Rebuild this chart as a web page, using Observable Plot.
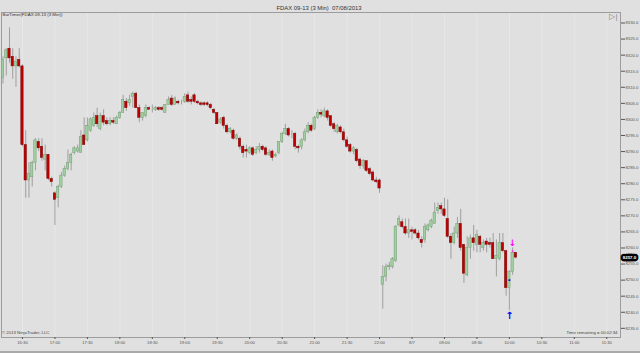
<!DOCTYPE html>
<html>
<head>
<meta charset="utf-8">
<script src="https://cdn.jsdelivr.net/npm/d3@7"></script>
<script src="https://cdn.jsdelivr.net/npm/@observablehq/plot@0.6"></script>
<style>
  html, body { margin: 0; padding: 0; background: #e0e0e0; }
  #wrap { width: 640px; height: 353px; overflow: hidden; }
  #band { width: 640px; height: 2px; background: #a9a9a9; }
</style>
</head>
<body>
<div id="wrap"><div id="chart"></div><div id="band"></div></div>
<script>
// ---- data (3-min FDAX bars, bar index 0 = first bar on chart) ----
const opens = [
8313.0,8319.0,8322.0,8319.5,8316.5,8318.5,8316.5,8292.0,8281.0,8282.0,
8286.5,8293.0,8291.5,8287.5,8289.0,8281.5,8277.0,8275.5,8279.0,8282.5,
8284.5,8286.5,8289.5,8290.0,8289.5,8295.0,8293.5,8296.5,8298.0,8301.0,
8297.0,8301.0,8299.5,8298.5,8299.5,8298.5,8300.5,8302.0,8305.5,8305.0,8307.0,
8308.0,8303.5,8300.5,8301.0,8303.5,8303.5,8303.0,8303.5,8303.5,8302.0,8304.5,
8306.5,8304.5,8305.5,8305.5,8305.5,8307.5,8306.0,8307.5,8305.5,8305.0,
8305.0,8305.0,8304.5,8303.0,8302.0,8299.0,8300.5,8298.0,8296.0,8296.5,8294.0,
8294.0,8291.5,8290.5,8289.5,8291.0,8289.5,8290.5,8291.5,8291.0,8289.0,8290.0,
8288.5,8289.5,8293.0,8295.5,8297.0,8295.5,8295.5,8291.5,8291.5,8293.5,
8296.0,8298.0,8297.0,8300.5,8302.0,8301.0,8302.5,8301.0,8298.5,
8296.0,8297.5,8296.0,8293.5,8292.0,8290.0,8290.5,8287.5,
8285.5,8287.0,8284.5,8283.5,8281.0,8281.0,
8248.5,8251.0,8254.0,8254.0,8256.0,8267.0,8268.0,8266.5,8264.5,8265.5,
8265.5,8264.5,8262.5,8262.5,8265.5,8266.5,8267.5,8271.5,8273.0,8272.0,
8269.0,8263.5,8261.5,8264.5,8267.5,8261.0,8251.5,8260.0,8263.0,8261.0,
8263.5,8260.0,8262.0,8261.5,8261.5,8256.5,8256.5,8261.5,8259.0,8247.5,
8252.5,8258.5
];
const highs = [
8319.5,8322.0,8328.5,8322.0,8319.5,8322.0,8317.0,8296.5,8286.5,8287.0,
8294.0,8294.0,8294.0,8292.0,8289.0,8282.0,8277.5,8279.5,8283.5,8285.5,
8290.5,8289.5,8291.5,8292.0,8296.5,8300.5,8300.5,8300.5,8302.0,8303.5,
8302.0,8303.0,8300.5,8300.5,8300.5,8301.0,8302.5,8307.5,8306.5,8307.5,8308.5,
8308.5,8304.5,8302.0,8304.5,8304.0,8304.5,8304.0,8304.0,8304.0,8304.5,8307.0,
8307.5,8307.0,8306.0,8306.0,8308.0,8308.5,8307.0,8308.0,8306.0,8305.5,
8305.5,8305.5,8305.0,8303.5,8302.0,8300.5,8301.0,8298.5,8297.5,8297.0,8295.5,
8294.5,8292.0,8292.0,8291.5,8291.5,8291.5,8292.5,8292.0,8291.5,8290.5,8290.5,
8289.5,8293.0,8296.0,8298.5,8297.5,8296.5,8296.0,8292.0,8294.0,8297.0,
8299.0,8298.5,8301.0,8303.0,8303.0,8303.5,8303.0,8301.0,8299.0,
8298.5,8298.0,8297.0,8294.5,8292.5,8291.5,8291.0,8288.0,
8287.5,8287.0,8285.0,8284.0,8282.0,8281.5,
8254.5,8255.0,8255.5,8257.0,8267.0,8270.0,8269.0,8269.0,8269.0,8266.5,
8266.0,8265.5,8263.5,8267.5,8267.5,8269.0,8274.0,8274.0,8274.0,8275.5,
8275.0,8264.5,8266.5,8269.5,8272.0,8261.0,8263.5,8264.0,8267.0,8265.5,
8264.0,8262.5,8263.0,8263.0,8264.5,8262.5,8264.5,8264.5,8259.0,8253.0,
8260.0,8258.5
];
const lows = [
8311.0,8313.5,8317.5,8312.5,8310.0,8316.0,8291.5,8275.5,8275.5,8279.0,
8284.0,8290.0,8287.0,8284.0,8281.0,8279.0,8267.0,8272.5,8278.5,8282.0,
8284.0,8284.0,8289.0,8289.5,8289.5,8292.0,8293.0,8296.0,8297.5,8297.5,
8296.5,8298.0,8298.0,8298.0,8298.5,8298.5,8300.0,8302.0,8302.5,8304.0,8303.5,
8303.5,8299.0,8299.5,8300.5,8303.0,8302.0,8302.5,8302.5,8302.5,8302.0,8304.5,
8304.0,8304.5,8304.5,8304.5,8305.0,8305.0,8304.5,8305.0,8304.5,8304.0,
8304.0,8304.0,8303.0,8301.5,8298.5,8298.5,8297.0,8295.5,8295.5,8293.5,8293.5,
8290.5,8288.0,8288.0,8289.0,8288.5,8289.0,8289.5,8290.0,8288.5,8288.5,8287.0,
8288.0,8289.0,8292.5,8295.0,8294.5,8294.0,8290.5,8289.5,8290.5,8293.0,
8295.5,8296.0,8296.5,8300.0,8300.5,8300.5,8299.5,8297.5,8296.0,
8295.5,8295.5,8293.0,8291.0,8289.5,8289.0,8286.5,8284.5,
8284.5,8283.5,8282.5,8280.5,8280.0,8277.0,
8241.0,8249.5,8253.0,8253.5,8255.5,8266.5,8266.0,8264.0,8263.0,8262.5,
8264.0,8262.5,8260.0,8261.5,8265.0,8266.0,8267.5,8270.5,8270.5,8269.5,
8263.0,8256.5,8261.0,8263.0,8259.0,8249.0,8251.0,8256.5,8259.0,8258.5,
8258.5,8259.0,8258.5,8260.0,8256.5,8251.0,8256.0,8258.5,8245.0,8240.5,
8251.5,8256.5
];
const closes = [
8318.5,8321.5,8319.0,8316.5,8318.0,8316.5,8292.0,8281.0,8283.0,8286.5,
8293.5,8291.0,8288.0,8289.0,8281.5,8280.5,8275.0,8279.0,8282.5,8284.5,
8286.5,8289.0,8291.0,8291.0,8294.5,8292.0,8298.0,8300.0,8300.5,8298.5,
8301.0,8299.0,8298.5,8299.5,8299.0,8300.5,8302.0,8306.0,8303.5,8306.0,8308.0,
8303.5,8300.5,8302.0,8303.5,8303.0,8303.5,8303.5,8303.0,8303.0,8304.5,8306.0,
8304.5,8306.5,8305.0,8305.5,8307.0,8305.5,8305.5,8305.5,8305.0,8304.5,
8304.5,8304.5,8303.5,8302.0,8298.5,8300.0,8298.0,8296.0,8297.0,8294.0,8295.0,
8291.5,8289.5,8290.0,8291.0,8289.0,8290.5,8291.5,8290.5,8289.0,8289.5,8288.0,
8289.0,8293.0,8295.5,8297.0,8295.0,8295.5,8291.5,8291.0,8293.5,8296.0,
8298.0,8296.5,8300.5,8302.0,8301.5,8302.5,8300.5,8298.0,8297.0,
8298.0,8296.0,8293.5,8291.5,8290.0,8291.0,8287.0,8285.5,
8287.0,8284.0,8283.0,8281.0,8280.5,8278.5,
8251.0,8254.0,8254.5,8256.5,8266.5,8269.0,8266.5,8264.5,8265.5,8265.0,
8264.5,8263.0,8261.5,8266.5,8267.0,8268.5,8271.0,8272.5,8272.0,8270.0,
8263.5,8261.5,8264.5,8267.5,8260.0,8252.0,8260.0,8263.0,8261.5,8264.0,
8261.0,8261.5,8261.0,8261.0,8256.5,8257.5,8261.5,8259.0,8247.5,8252.5,
8258.5,8257.0
];

// x-axis tick positions (bar index) and their labels
const tickIndex  = [6,16,26,36,46,56,66,76,86,96,106,116,126,136,146,156,166,176,186];
const tickLabels = ["16:30","17:00","17:30","18:00","18:30","19:00","19:30","20:00","20:30","21:00",
                    "21:30","22:00","8/7","09:00","09:30","10:00","10:30","11:00","11:30"];
const yTicks = [8235,8240,8245,8250,8255,8260,8265,8270,8275,8280,8285,8290,8295,8300,8305,8310,8315,8320,8325,8330];

// signal markers (bar index)
const buyArrowIdx = [156];
const sellArrowIdx = [157];
const blueDots = [{i:156, price:8250.0}];
const pinkDots = [{i:157, price:8259.0}];

const titleText = "FDAX 09-13 (3 Min)  07/08/2013";
const indicatorLabel = "BarTimer(FDAX 09-13 (3 Min))";
const copyrightText = "© 2013 NinjaTrader, LLC";
const timerText = "Time remaining = 00:02:34";

const bars = opens.map((o, i) => ({i, open: o, high: highs[i], low: lows[i], close: closes[i]}));
const ups = bars.filter(d => d.close >= d.open);
const downs = bars.filter(d => d.close < d.open);
const last = bars[bars.length - 1];
const labelMap = new Map(tickIndex.map((t, k) => [t, tickLabels[k]]));

const font = "Liberation Sans, Arial, sans-serif";

const chart = Plot.plot({
  width: 640,
  height: 351,
  marginTop: 12,
  marginBottom: 14,
  marginLeft: 1,
  marginRight: 20,
  style: {background: "#e0e0e0", fontFamily: font, color: "#555"},
  x: {type: "linear", domain: [-0.46, 190.23], label: null},
  y: {domain: [8232.15, 8333.27], label: null},
  marks: [
    Plot.ruleX(tickIndex, {stroke: "#e7e7e7", strokeWidth: 1}),
    Plot.frame({stroke: "#9c9c9c"}),
    Plot.ruleX(bars, {x: "i", y1: "low", y2: "high", stroke: "#8e8e8e", strokeWidth: 0.8}),
    Plot.rect(ups, {x1: d => d.i - 0.36, x2: d => d.i + 0.36, y1: "open", y2: "close",
                    fill: "#9fd09f", stroke: "#739e73", strokeWidth: 0.5}),
    Plot.rect(downs, {x1: d => d.i - 0.36, x2: d => d.i + 0.36, y1: "open", y2: "close",
                      fill: "#c00000", stroke: "#7a0000", strokeWidth: 0.5}),
    Plot.axisY({anchor: "right", ticks: yTicks, tickFormat: d => d.toFixed(1),
                tickSize: 4, tickPadding: 1, fontSize: 4.2, label: null}),
    Plot.axisX({ticks: tickIndex, tickFormat: d => labelMap.get(d),
                tickSize: 2, tickPadding: 1.5, fontSize: 4.2, label: null}),
    // signals
    Plot.text(buyArrowIdx, {x: d => d, y: d => lows[d], text: () => "↑", dy: 5.5,
                            fill: "#0000ff", fontSize: 10, fontWeight: "bold", fontFamily: "DejaVu Sans"}),
    Plot.text(sellArrowIdx, {x: d => d, y: d => highs[d], text: () => "↓", dy: -5,
                             fill: "#ff00ff", fontSize: 9, fontWeight: "bold", fontFamily: "DejaVu Sans"}),
    Plot.dot(blueDots, {x: "i", y: "price", r: 1, fill: "#0000ff", symbol: "square"}),
    Plot.dot(pinkDots, {x: "i", y: "price", r: 1, fill: "#ff40ff", symbol: "square"}),
    // last price marker
    Plot.text([last], {frameAnchor: "right", y: "close", text: d => d.close.toFixed(1), dx: 9,
                       textAnchor: "middle",
                       fill: "white", stroke: "black", strokeWidth: 4.6, strokeLinejoin: "miter",
                       fontSize: 4.4, fontWeight: "bold"}),
    // texts
    Plot.text([titleText], {frameAnchor: "top", dx: 8, dy: -7, fontSize: 5.9, fill: "#333"}),
    Plot.text([indicatorLabel], {frameAnchor: "top-left", dx: 1, dy: 0.5, fontSize: 4.4, fill: "#333"}),
    Plot.text([copyrightText], {frameAnchor: "bottom-left", dx: 0.5, dy: -3.5, fontSize: 4.3, fill: "#444"}),
    Plot.text([timerText], {frameAnchor: "bottom-right", dx: -3, dy: -3.5, fontSize: 4.3, fill: "#444"}),
    Plot.text(["▷|"], {frameAnchor: "top-right", dx: -3, dy: 1, fontSize: 8, fill: "#8a8a8a"})
  ]
});
document.getElementById("chart").appendChild(chart);
</script>
</body>
</html>
